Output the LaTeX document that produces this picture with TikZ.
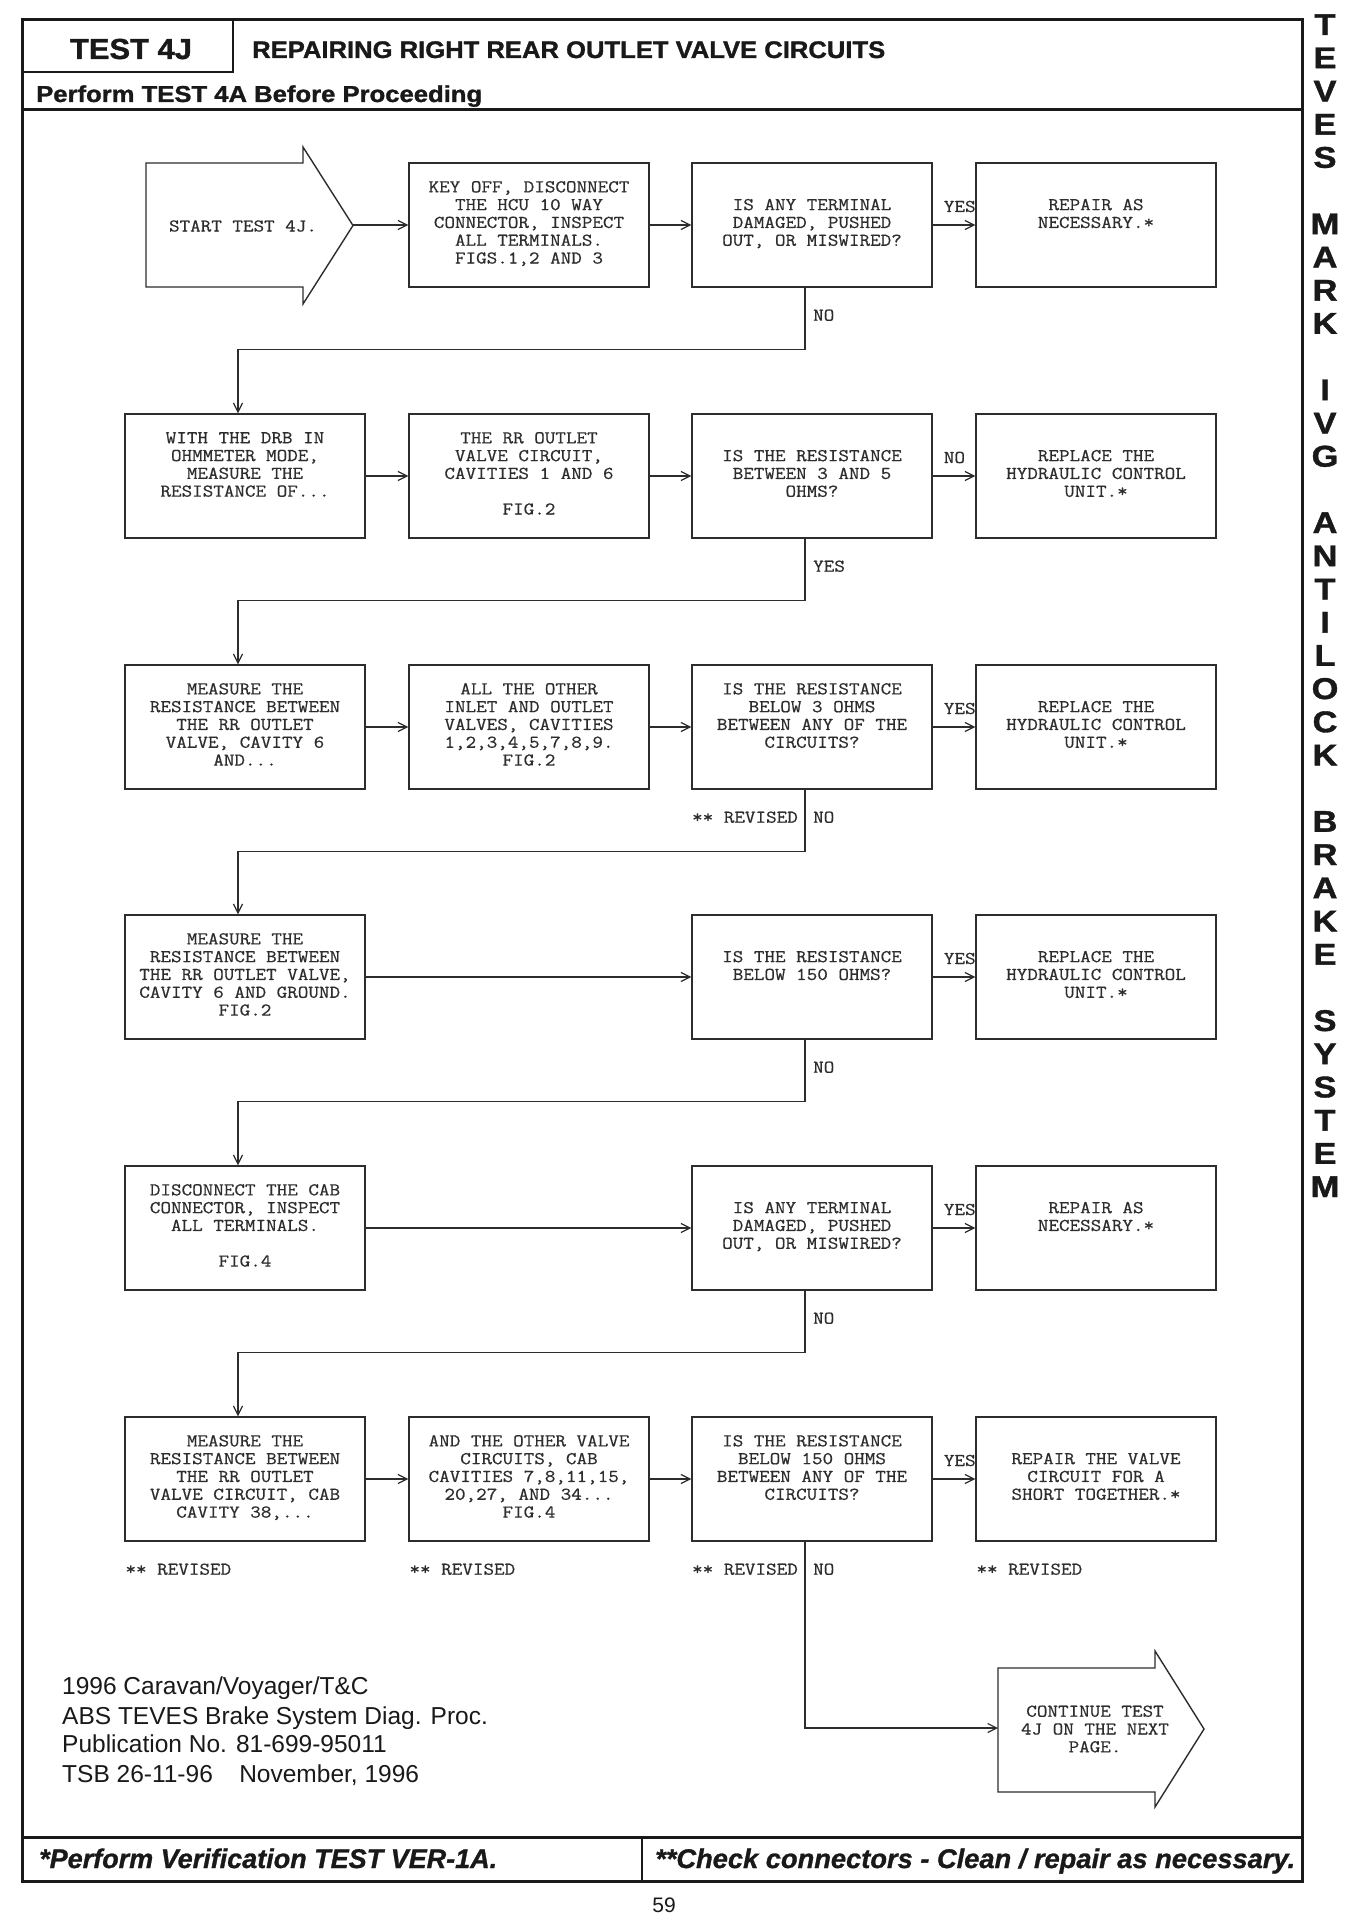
\documentclass[tikz,border=0pt]{standalone}
\usepackage{fontspec}
\usepackage{graphicx}
\setmainfont{Liberation Sans}
\newfontfamily\monof{Latin Modern Mono}[FakeStretch=1.14,FakeBold=0.6]
\newfontfamily\hdrfont{Liberation Sans Bold}[FakeBold=1.2]
\newfontfamily\ftrfont{Liberation Sans Bold Italic}[FakeBold=1]
\usetikzlibrary{arrows.meta}
\definecolor{ink}{RGB}{45,45,45}
\definecolor{frm}{RGB}{25,25,25}
\newcommand{\fitw}[2]{\resizebox{#1}{\height}{#2}}
\newcommand{\boxfont}{\monof\fontsize{18}{17.8}\selectfont}
\newcommand{\topstrut}{\rule{0pt}{17pt}}
\tikzset{
  box/.style={draw=ink, line width=1.4pt, minimum width=240pt, minimum height=124pt,
    inner sep=0pt, align=center, font=\boxfont, text=ink,
    execute at begin node=\topstrut, execute at end node=\strut},
  lbl/.style={font=\boxfont, text=ink, inner sep=0pt},
  conn/.style={draw=ink, line width=1.2pt},
  arr/.style={conn, -{Straight Barb[length=9pt,width=9pt,line width=1.2pt]}},
  frame/.style={draw=frm, line width=3pt},
  thinframe/.style={draw=frm, line width=2.2pt},
  arrowshape/.style={draw=ink, line width=1.4pt, line join=miter},
  sidel/.style={font=\hdrfont\fontsize{30}{30}\selectfont, text=frm, inner sep=0pt, anchor=base},
  ltxt/.style={font=\fontsize{24.5}{29}\selectfont, text=frm, inner sep=0pt, anchor=base west},
  hdr/.style={text=frm, inner sep=0pt},
}
\begin{document}
\begin{tikzpicture}[x=1pt,y=-1pt]
\useasboundingbox (0,0) rectangle (1361,1926);
\fill[white] (0,0) rectangle (1361,1926);

% ---------- frame ----------
\draw[frame] (22,20) rectangle (1302,1881);
\draw[thinframe] (233,20) -- (233,72) -- (22,72);
\draw[frame] (22,110) -- (1302,110);
\draw[frame] (22,1837) -- (1302,1837);
\draw[thinframe] (642,1837) -- (642,1881);

\node[hdr, font=\hdrfont\fontsize{29}{29}\selectfont, anchor=base] (ttl) at (131,59) {\fitw{122pt}{TEST 4J}};
\node[hdr, font=\hdrfont\fontsize{24}{24}\selectfont, anchor=base west] (title) at (252,58) {\fitw{633pt}{REPAIRING RIGHT REAR OUTLET VALVE CIRCUITS}};
\node[hdr, font=\hdrfont\fontsize{23}{23}\selectfont, anchor=base west] (pre) at (36,102) {\fitw{446pt}{Perform TEST 4A Before Proceeding}};
\node[hdr, font=\ftrfont\fontsize{27}{27}\selectfont, anchor=base west] (fl) at (39,1868) {\fitw{458pt}{*Perform Verification TEST VER-1A.}};
\node[hdr, font=\ftrfont\fontsize{27}{27}\selectfont, anchor=base west] (fr) at (655,1868) {\fitw{640pt}{**Check connectors - Clean / repair as necessary.}};
\node[hdr, font=\fontsize{21}{21}\selectfont, anchor=base] (pg) at (664,1912) {59};

% ---------- side letters ----------
\foreach \ch [count=\k from 0] in {T,E,V,E,S,{},M,A,R,K,{},I,V,G,{},A,N,T,I,L,O,C,K,{},B,R,A,K,E,{},S,Y,S,T,E,M}{
  \node[sidel] (side\k) at (1325,{35+33.2*\k}) {\scalebox{1.15}[1]{\ch}};
}

% ---------- start / continue arrows ----------
\draw[arrowshape] (146,163) -- (303,163) -- (303,147) -- (353,225.5) -- (303,304) -- (303,287) -- (146,287) -- cycle;
\coordinate (stip) at (353,225);
\node[lbl] (start) at (243,226) {START TEST 4J.};

\draw[arrowshape] (998,1668) -- (1155,1668) -- (1155,1651) -- (1204,1729) -- (1155,1807) -- (1155,1792) -- (998,1792) -- cycle;
\coordinate (cin) at (998,1728);
\node[lbl, align=center] (cont) at (1095,1729) {CONTINUE TEST\\4J ON THE NEXT\\PAGE.};

% ---------- boxes ----------
\node[box] (r1c2) at (529,225) {KEY OFF, DISCONNECT\\THE HCU 10 WAY\\CONNECTOR, INSPECT\\ALL TERMINALS.\\FIGS.1,2 AND 3};
\node[box] (r1c3) at (812,225) {IS ANY TERMINAL\\DAMAGED, PUSHED\\OUT, OR MISWIRED?};
\node[box] (r1c4) at (1096,225) {REPAIR AS\\NECESSARY.*\\~};

\node[box] (r2c1) at (245,476) {WITH THE DRB IN\\OHMMETER MODE,\\MEASURE THE\\RESISTANCE OF...\\~};
\node[box] (r2c2) at (529,476) {THE RR OUTLET\\VALVE CIRCUIT,\\CAVITIES 1 AND 6\\~\\FIG.2};
\node[box] (r2c3) at (812,476) {IS THE RESISTANCE\\BETWEEN 3 AND 5\\OHMS?};
\node[box] (r2c4) at (1096,476) {REPLACE THE\\HYDRAULIC CONTROL\\UNIT.*};

\node[box] (r3c1) at (245,727) {MEASURE THE\\RESISTANCE BETWEEN\\THE RR OUTLET\\VALVE, CAVITY 6\\AND...};
\node[box] (r3c2) at (529,727) {ALL THE OTHER\\INLET AND OUTLET\\VALVES, CAVITIES\\1,2,3,4,5,7,8,9.\\FIG.2};
\node[box] (r3c3) at (812,727) {IS THE RESISTANCE\\BELOW 3 OHMS\\BETWEEN ANY OF THE\\CIRCUITS?\\~};
\node[box] (r3c4) at (1096,727) {REPLACE THE\\HYDRAULIC CONTROL\\UNIT.*};

\node[box] (r4c1) at (245,977) {MEASURE THE\\RESISTANCE BETWEEN\\THE RR OUTLET VALVE,\\CAVITY 6 AND GROUND.\\FIG.2};
\node[box] (r4c3) at (812,977) {IS THE RESISTANCE\\BELOW 150 OHMS?\\~};
\node[box] (r4c4) at (1096,977) {REPLACE THE\\HYDRAULIC CONTROL\\UNIT.*};

\node[box] (r5c1) at (245,1228) {DISCONNECT THE CAB\\CONNECTOR, INSPECT\\ALL TERMINALS.\\~\\FIG.4};
\node[box] (r5c3) at (812,1228) {IS ANY TERMINAL\\DAMAGED, PUSHED\\OUT, OR MISWIRED?};
\node[box] (r5c4) at (1096,1228) {REPAIR AS\\NECESSARY.*\\~};

\node[box] (r6c1) at (245,1479) {MEASURE THE\\RESISTANCE BETWEEN\\THE RR OUTLET\\VALVE CIRCUIT, CAB\\CAVITY 38,...};
\node[box] (r6c2) at (529,1479) {AND THE OTHER VALVE\\CIRCUITS, CAB\\CAVITIES 7,8,11,15,\\20,27, AND 34...\\FIG.4};
\node[box] (r6c3) at (812,1479) {IS THE RESISTANCE\\BELOW 150 OHMS\\BETWEEN ANY OF THE\\CIRCUITS?\\~};
\node[box] (r6c4) at (1096,1479) {REPAIR THE VALVE\\CIRCUIT FOR A\\SHORT TOGETHER.*};

% ---------- horizontal connectors ----------
\draw[arr] (stip) -- (r1c2.west);
\draw[arr] (r1c2) -- (r1c3);
\draw[arr] (r1c3) -- (r1c4);
\draw[arr] (r2c1) -- (r2c2);
\draw[arr] (r2c2) -- (r2c3);
\draw[arr] (r2c3) -- (r2c4);
\draw[arr] (r3c1) -- (r3c2);
\draw[arr] (r3c2) -- (r3c3);
\draw[arr] (r3c3) -- (r3c4);
\draw[arr] (r4c1) -- (r4c3);
\draw[arr] (r4c3) -- (r4c4);
\draw[arr] (r5c1) -- (r5c3);
\draw[arr] (r5c3) -- (r5c4);
\draw[arr] (r6c1) -- (r6c2);
\draw[arr] (r6c2) -- (r6c3);
\draw[arr] (r6c3) -- (r6c4);

% branch labels
\node[lbl, anchor=base west] (y1) at ([xshift=11pt,yshift=13pt]r1c3.east) {YES};
\node[lbl, anchor=base west] (n2) at ([xshift=11pt,yshift=13pt]r2c3.east) {NO};
\node[lbl, anchor=base west] (y3) at ([xshift=11pt,yshift=13pt]r3c3.east) {YES};
\node[lbl, anchor=base west] (y4) at ([xshift=11pt,yshift=13pt]r4c3.east) {YES};
\node[lbl, anchor=base west] (y5) at ([xshift=11pt,yshift=13pt]r5c3.east) {YES};
\node[lbl, anchor=base west] (y6) at ([xshift=11pt,yshift=13pt]r6c3.east) {YES};

% ---------- downward connectors ----------
\draw[arr] ([xshift=-7pt]r1c3.south) -- ++(0,62) -| ([xshift=-7pt]r2c1.north);
\draw[arr] ([xshift=-7pt]r2c3.south) -- ++(0,62) -| ([xshift=-7pt]r3c1.north);
\draw[arr] ([xshift=-7pt]r3c3.south) -- ++(0,62) -| ([xshift=-7pt]r4c1.north);
\draw[arr] ([xshift=-7pt]r4c3.south) -- ++(0,62) -| ([xshift=-7pt]r5c1.north);
\draw[arr] ([xshift=-7pt]r5c3.south) -- ++(0,62) -| ([xshift=-7pt]r6c1.north);
\draw[arr] ([xshift=-7pt]r6c3.south) |- (cin);

\node[lbl, anchor=base west] (n1) at ([xshift=1pt,yshift=-33pt]r1c3.south) {NO};
\node[lbl, anchor=base west] (y2) at ([xshift=1pt,yshift=-33pt]r2c3.south) {YES};
\node[lbl, anchor=base west] (n3) at ([xshift=1pt,yshift=-33pt]r3c3.south) {NO};
\node[lbl, anchor=base east] (rv3) at ([xshift=-14pt,yshift=-33pt]r3c3.south) {** REVISED};
\node[lbl, anchor=base west] (n4) at ([xshift=1pt,yshift=-33pt]r4c3.south) {NO};
\node[lbl, anchor=base west] (n5) at ([xshift=1pt,yshift=-33pt]r5c3.south) {NO};
\node[lbl, anchor=base west] (n6) at ([xshift=1pt,yshift=-33pt]r6c3.south) {NO};
\node[lbl, anchor=base east] (rv6c) at ([xshift=-14pt,yshift=-33pt]r6c3.south) {** REVISED};
\node[lbl, anchor=base west] (rv6a) at ([xshift=1pt,yshift=-33pt]r6c1.south west) {** REVISED};
\node[lbl, anchor=base west] (rv6b) at ([xshift=1pt,yshift=-33pt]r6c2.south west) {** REVISED};
\node[lbl, anchor=base west] (rv6d) at ([xshift=1pt,yshift=-33pt]r6c4.south west) {** REVISED};

% ---------- publication text ----------
\node[ltxt] (p1) at (62,1694) {1996 Caravan/Voyager/T\&C};
\node[ltxt] (p2) at (62,1724) {ABS TEVES Brake System Diag. Proc.};
\node[ltxt] (p3) at (62,1752) {Publication No. 81-699-95011};
\node[ltxt] (p4) at (62,1782) {TSB 26-11-96\hspace{0.8em} November, 1996};
\end{tikzpicture}
\end{document}
